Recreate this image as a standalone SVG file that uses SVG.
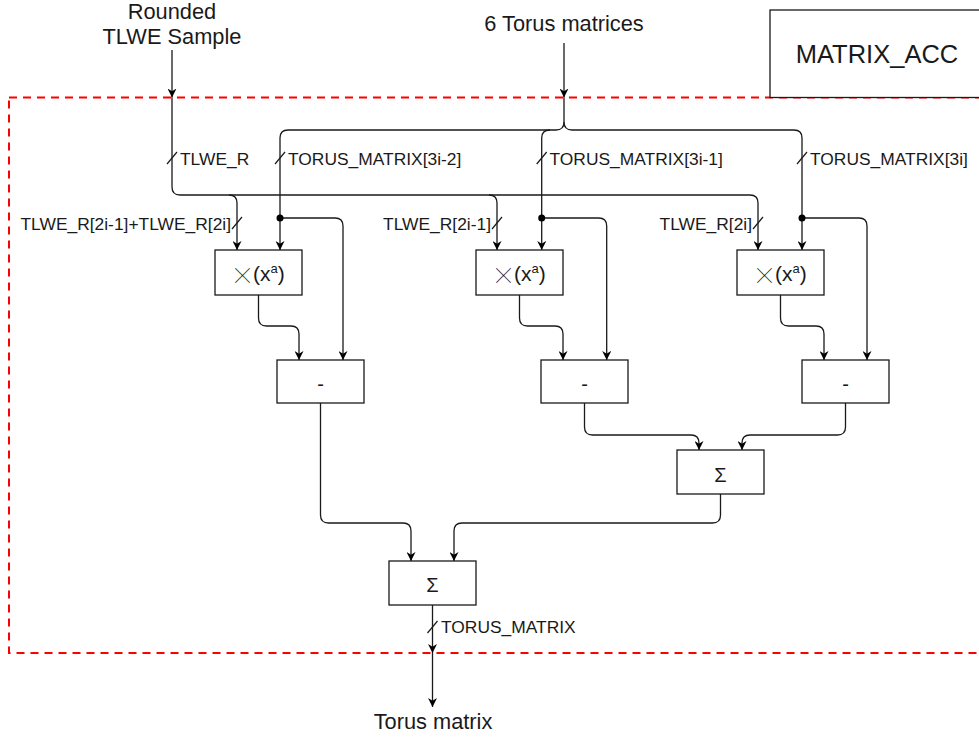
<svg xmlns="http://www.w3.org/2000/svg" width="979" height="737" viewBox="0 0 979 737">
  <style>
    text { font-family: "Liberation Sans", Arial, sans-serif; fill: #1a1a1a; }
    .box { fill: #ffffff; stroke: #1a1a1a; stroke-width: 1.3; }
    .wire { fill: none; stroke: #1a1a1a; stroke-width: 1.3; }
    .arr { marker-end: url(#head); }
    .bus { stroke: #1a1a1a; stroke-width: 1.2; }
    .lbl { font-size: 17.4px; }
    .big { font-size: 21.8px; }
    .op { font-size: 20px; text-anchor: middle; }
    .arg { font-size: 21px; }
    .times { font-family: Inter, "Noto Sans", sans-serif; font-weight: 100; font-size: 36px; }
    .sup { font-size: 13px; }
    .dot { fill: #000000; }
  </style>
  <defs>
    <marker id="head" viewBox="0 0 10 10" refX="10" refY="5" markerWidth="9" markerHeight="9" markerUnits="userSpaceOnUse" orient="auto">
      <path d="M0,0 L10,5 L0,10 L3,5 Z" fill="#000000"/>
    </marker>
  </defs>

  <rect width="979" height="737" fill="#ffffff"/>

  <!-- module boundary -->
  <g id="boundary">
    <rect x="9" y="97.5" width="990" height="555.5" fill="none" stroke="#ff0000" stroke-width="2" stroke-dasharray="8,6"/>
  </g>

  <g id="title">
    <rect class="box" x="770" y="10" width="220" height="87.5"/>
    <text x="877" y="63" font-size="25.5" text-anchor="middle">MATRIX_ACC</text>
  </g>

  <!-- external inputs / output -->
  <g id="in-tlwe">
    <text class="big" x="172" y="19" text-anchor="middle">Rounded</text>
    <text class="big" x="172" y="44" text-anchor="middle">TLWE Sample</text>
  </g>
  <g id="in-torus">
    <text class="big" x="564" y="31" text-anchor="middle">6 Torus matrices</text>
  </g>
  <g id="out-torus">
    <text class="big" x="433" y="729" text-anchor="middle">Torus matrix</text>
  </g>

  <!-- connectors -->
  <g id="connectors">
    <path class="wire arr" d="M172,50 L172,97.5"/>
    <path class="wire arr" d="M564,43 L564,97.5"/>

    <!-- TLWE_R distribution -->
    <path class="wire arr" d="M172,97.5 L172,187 Q172,195 180,195 L229,195 Q237,195 237,203 L237,250"/>
    <path class="wire arr" d="M229,195 L489,195 Q497,195 497,203 L497,250"/>
    <path class="wire arr" d="M489,195 L750,195 Q758,195 758,203 L758,250"/>

    <!-- torus matrix distribution -->
    <path class="wire arr" d="M564,97.5 L564,122 Q564,130 556,130 L288,130 Q280,130 280,138 L280,250"/>
    <path class="wire arr" d="M564,122 Q564,130 572,130 L794,130 Q802,130 802,138 L802,250"/>
    <path class="wire arr" d="M550,130 Q541.7,130 541.7,138 L541.7,250"/>

    <!-- taps to subtractors -->
    <path class="wire arr" d="M280,218 L335,218 Q343,218 343,226 L343,360"/>
    <path class="wire arr" d="M541.7,218 L598.7,218 Q606.7,218 606.7,226 L606.7,360"/>
    <path class="wire arr" d="M802,218 L859,218 Q867,218 867,226 L867,360"/>

    <!-- rotation outputs to subtractors -->
    <path class="wire arr" d="M258.5,295 L258.5,318 Q258.5,326 266.5,326 L291,326 Q299,326 299,334 L299,360"/>
    <path class="wire arr" d="M519.5,295 L519.5,318 Q519.5,326 527.5,326 L555,326 Q563,326 563,334 L563,360"/>
    <path class="wire arr" d="M780.5,295 L780.5,318 Q780.5,326 788.5,326 L816,326 Q824,326 824,334 L824,360"/>

    <!-- subtractors to adders -->
    <path class="wire arr" d="M584.5,403 L584.5,427 Q584.5,435 592.5,435 L691,435 Q699,435 699,443 L699,450"/>
    <path class="wire arr" d="M845.5,403 L845.5,427 Q845.5,435 837.5,435 L750,435 Q742,435 742,443 L742,450"/>
    <path class="wire arr" d="M320.5,403 L320.5,515 Q320.5,523 328.5,523 L403,523 Q411,523 411,531 L411,561"/>
    <path class="wire arr" d="M720.5,494 L720.5,515 Q720.5,523 712.5,523 L462,523 Q454,523 454,531 L454,561"/>

    <!-- result -->
    <path class="wire arr" d="M432.5,605 L432.5,653"/>
    <path class="wire arr" d="M432.5,653 L432.5,707"/>

    <!-- junction dots -->
    <circle class="dot" cx="280" cy="218" r="3.5"/>
    <circle class="dot" cx="541.7" cy="218" r="3.5"/>
    <circle class="dot" cx="802" cy="218" r="3.5"/>

    <!-- bus width marks and labels -->
    <line class="bus" x1="167" y1="164" x2="177" y2="152"/>
    <text class="lbl" x="180" y="165">TLWE_R</text>
    <line class="bus" x1="275" y1="164" x2="285" y2="152"/>
    <text class="lbl" x="288" y="165">TORUS_MATRIX[3i-2]</text>
    <line class="bus" x1="536.7" y1="164" x2="546.7" y2="152"/>
    <text class="lbl" x="549.5" y="165">TORUS_MATRIX[3i-1]</text>
    <line class="bus" x1="797" y1="164" x2="807" y2="152"/>
    <text class="lbl" x="810" y="165">TORUS_MATRIX[3i]</text>

    <line class="bus" x1="232" y1="229" x2="242" y2="217"/>
    <text class="lbl" x="231" y="230" text-anchor="end">TLWE_R[2i-1]+TLWE_R[2i]</text>
    <line class="bus" x1="492" y1="229" x2="502" y2="217"/>
    <text class="lbl" x="491" y="230" text-anchor="end">TLWE_R[2i-1]</text>
    <line class="bus" x1="753" y1="229" x2="763" y2="217"/>
    <text class="lbl" x="752" y="230" text-anchor="end">TLWE_R[2i]</text>

    <line class="bus" x1="427.5" y1="633" x2="437.5" y2="621"/>
    <text class="lbl" x="441" y="633">TORUS_MATRIX</text>
  </g>

  <!-- rotation blocks -->
  <g id="rot1">
    <rect class="box" x="215" y="250" width="87" height="45"/>
    <text class="arg" x="231" y="281"><tspan class="times" dy="5">×</tspan><tspan dy="-5" dx="-1">(x</tspan><tspan class="sup" dy="-8">a</tspan><tspan dy="8">)</tspan></text>
  </g>
  <g id="rot2">
    <rect class="box" x="476" y="250" width="87" height="45"/>
    <text class="arg" x="492" y="281"><tspan class="times" dy="5">×</tspan><tspan dy="-5" dx="-1">(x</tspan><tspan class="sup" dy="-8">a</tspan><tspan dy="8">)</tspan></text>
  </g>
  <g id="rot3">
    <rect class="box" x="737" y="250" width="87" height="45"/>
    <text class="arg" x="753" y="281"><tspan class="times" dy="5">×</tspan><tspan dy="-5" dx="-1">(x</tspan><tspan class="sup" dy="-8">a</tspan><tspan dy="8">)</tspan></text>
  </g>

  <!-- subtractors -->
  <g id="sub1">
    <rect class="box" x="277" y="360" width="87" height="43"/>
    <text x="320.5" y="391" class="op">-</text>
  </g>
  <g id="sub2">
    <rect class="box" x="541" y="360" width="87" height="43"/>
    <text x="584.5" y="391" class="op">-</text>
  </g>
  <g id="sub3">
    <rect class="box" x="802" y="360" width="87" height="43"/>
    <text x="845.5" y="391" class="op">-</text>
  </g>

  <!-- adders -->
  <g id="sum-mid">
    <rect class="box" x="677" y="450" width="87" height="44"/>
    <text x="720.5" y="482" class="op">Σ</text>
  </g>
  <g id="sum-out">
    <rect class="box" x="389" y="561" width="87" height="44"/>
    <text x="432.5" y="592" class="op">Σ</text>
  </g>
</svg>
